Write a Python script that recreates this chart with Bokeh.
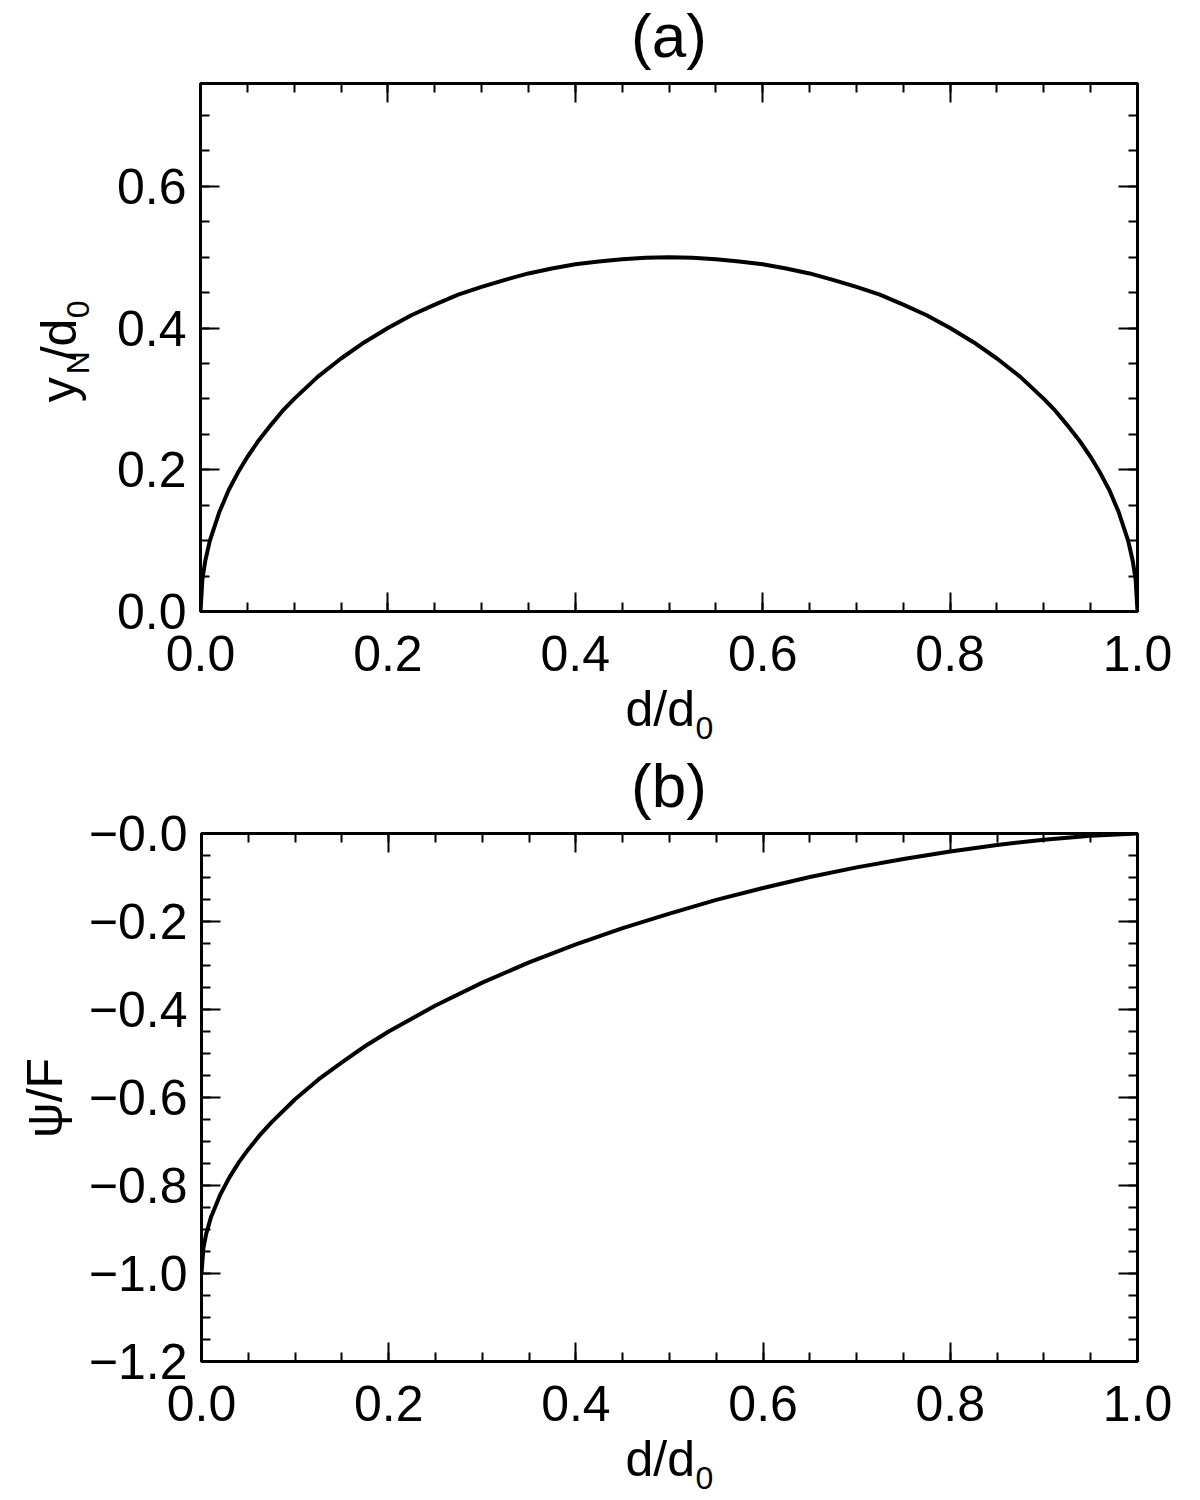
import math
from bokeh.plotting import figure
from bokeh.layouts import column, row
from bokeh.models import Range1d, LinearAxis, SingleIntervalTicker, CustomJSTickFormatter, Label
from bokeh.embed import file_html
from bokeh.resources import INLINE

# ---- data ----
d_a = [0, 0.002, 0.005, 0.01, 0.02, 0.03, 0.04, 0.05, 0.0625, 0.075, 0.0875, 0.1, 0.125,
       0.15, 0.175, 0.2, 0.225, 0.25, 0.275, 0.3, 0.325, 0.35, 0.375, 0.4, 0.425, 0.45,
       0.475, 0.5, 0.525, 0.55, 0.575, 0.6, 0.625, 0.65, 0.675, 0.7, 0.725, 0.75, 0.775,
       0.8, 0.825, 0.85, 0.875, 0.9, 0.9125, 0.925, 0.9375, 0.95, 0.96, 0.97, 0.98, 0.99,
       0.995, 0.998, 1.0]
yN_a = [0, 0.045, 0.071, 0.100, 0.140, 0.171, 0.196, 0.218, 0.242, 0.263, 0.283, 0.300,
        0.331, 0.357, 0.380, 0.400, 0.418, 0.433, 0.447, 0.458, 0.468, 0.477, 0.484, 0.490,
        0.494, 0.497, 0.499, 0.500, 0.499, 0.497, 0.494, 0.490, 0.484, 0.477, 0.468, 0.458,
        0.447, 0.433, 0.418, 0.400, 0.380, 0.357, 0.331, 0.300, 0.283, 0.263, 0.242, 0.218,
        0.196, 0.171, 0.140, 0.100, 0.071, 0.045, 0]

d_b = [0, 0.002, 0.005, 0.01, 0.02, 0.03, 0.04, 0.05, 0.0625, 0.075, 0.1, 0.125, 0.15,
       0.175, 0.2, 0.25, 0.3, 0.35, 0.4, 0.45, 0.5, 0.55, 0.6, 0.65, 0.7, 0.75, 0.8, 0.85,
       0.9, 0.95, 1.0]
psi_b = [-1.0, -0.943, -0.910, -0.873, -0.821, -0.781, -0.747, -0.718, -0.685, -0.656,
         -0.604, -0.559, -0.520, -0.483, -0.450, -0.391, -0.339, -0.293, -0.252, -0.215,
         -0.182, -0.151, -0.124, -0.099, -0.077, -0.058, -0.041, -0.026, -0.014, -0.005, 0.0]

x_range = (0.0, 1.0)
ya_range = (0.0, 0.745)
yb_range = (-1.2001, 0.0)

FONT = "Liberation Sans"
TICK_PX = "50px"
LINE_W = 4


def style_axis(ax, show):
    ax.axis_line_width = 3
    ax.axis_line_color = "black"
    ax.major_tick_in = 19
    ax.major_tick_out = 0
    ax.minor_tick_in = 9
    ax.minor_tick_out = 0
    ax.major_tick_line_width = 2
    ax.minor_tick_line_width = 2
    ax.major_tick_line_color = "black"
    ax.minor_tick_line_color = "black"
    ax.major_label_text_font = FONT
    ax.major_label_text_color = "black"
    if show:
        ax.major_label_text_font_size = TICK_PX
    else:
        ax.major_label_text_font_size = "0px"
        ax.major_label_standoff = 0
        ax.formatter = CustomJSTickFormatter(code="return ''")


def text_fig(w, h, **kw):
    f = figure(width=w, height=h, output_backend="svg", toolbar_location=None,
               x_range=Range1d(0, w), y_range=Range1d(0, h),
               x_axis_location=None, y_axis_location=None,
               min_border_left=0, min_border_right=0, min_border_top=0, min_border_bottom=0,
               **kw)
    f.outline_line_color = None
    f.grid.visible = False
    f.background_fill_color = "white"
    f.border_fill_color = "white"
    return f


def add_text(f, txt, x, y, size, align="left", angle=0.0):
    f.add_layout(Label(x=x, y=y, text=txt, angle=angle, text_align=align,
                       text_baseline="alphabetic", text_font=FONT,
                       text_font_size=size, text_color="black"))


TOP_OV = 22   # plot row overlaps the (empty) lower part of the title strip
MAIN_H = 619 + TOP_OV


def main_fig(xs, ys, yr, yfmt, left_w):
    p = figure(width=1200 - left_w, height=MAIN_H, output_backend="svg", toolbar_location=None,
               x_range=Range1d(*x_range), y_range=Range1d(*yr),
               min_border_left=200 - left_w, min_border_right=63,
               min_border_top=10 + TOP_OV, min_border_bottom=81)
    p.outline_line_color = "black"
    p.outline_line_width = 3
    p.xgrid.visible = False
    p.ygrid.visible = False
    p.background_fill_color = "white"
    p.border_fill_alpha = 0.0

    p.xaxis.ticker = SingleIntervalTicker(interval=0.2, num_minor_ticks=4)
    p.yaxis.ticker = SingleIntervalTicker(interval=0.2, num_minor_ticks=4)
    p.xaxis.formatter = CustomJSTickFormatter(code="return tick.toFixed(1)")
    p.yaxis.formatter = CustomJSTickFormatter(code=yfmt)
    style_axis(p.xaxis[0], True)
    style_axis(p.yaxis[0], True)
    p.xaxis.major_label_standoff = 24
    p.yaxis.major_label_standoff = 14

    top = LinearAxis(ticker=SingleIntervalTicker(interval=0.2, num_minor_ticks=4))
    right = LinearAxis(ticker=SingleIntervalTicker(interval=0.2, num_minor_ticks=4))
    style_axis(top, False)
    style_axis(right, False)
    p.add_layout(top, "above")
    p.add_layout(right, "right")

    p.line(xs, ys, line_color="black", line_width=LINE_W)
    return p


ang = math.pi / 2
XL_H = 70      # x-label strip height; overlaps the empty bottom of the plot above by 12 px
XL_OV = 12

# ---------- panel (a) ----------
title_a = text_fig(1200, 73)
add_text(title_a, "(a)", 668.5, 38, "62px", align="center")

ylab_a = text_fig(100, MAIN_H)
ylab_a.background_fill_alpha = 0.0
ylab_a.border_fill_alpha = 0.0
add_text(ylab_a, "y", 58, 254, "50px", angle=ang)
add_text(ylab_a, "N", 77, 288, "32px", angle=ang)
add_text(ylab_a, "/d", 58, 305, "50px", angle=ang)
add_text(ylab_a, "0", 77, 356, "32px", angle=ang)

main_a = main_fig(d_a, yN_a, ya_range, "return tick.toFixed(1)", 100)

xlab_a = text_fig(1200, XL_H, margin=(-XL_OV, 0, 0, 0))
add_text(xlab_a, "d/d", 625, 42, "50px")
add_text(xlab_a, "0", 695, 23, "32px")

# ---------- panel (b) ----------
title_b = text_fig(1200, 73)
add_text(title_b, "(b)", 668.5, 38, "62px", align="center")

ylab_b = text_fig(85, MAIN_H)
ylab_b.background_fill_alpha = 0.0
ylab_b.border_fill_alpha = 0.0
add_text(ylab_b, "\u03c8/F", 44, 320, "50px", align="center", angle=ang)

main_b = main_fig(d_b, psi_b, yb_range, "return '\\u2212' + Math.abs(tick).toFixed(1)", 85)

xlab_b = text_fig(1200, XL_H, margin=(-XL_OV, 0, 0, 0))
add_text(xlab_b, "d/d", 625, 42, "50px")
add_text(xlab_b, "0", 695, 23, "32px")

row_a = row(ylab_a, main_a, spacing=0, margin=(-TOP_OV, 0, 0, 0))
row_b = row(ylab_b, main_b, spacing=0, margin=(-TOP_OV, 0, 0, 0))

layout = column(title_a, row_a, xlab_a, title_b, row_b, xlab_b, spacing=0)
open("out.html", "w").write(file_html(layout, INLINE))
